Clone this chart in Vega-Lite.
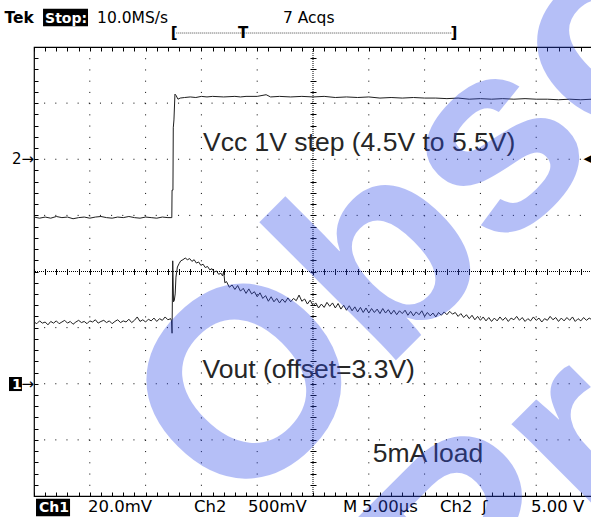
{
"$schema": "https://vega.github.io/schema/vega-lite/v6.json",
"width": 558, "height": 449,
"autosize": "none",
"padding": {"left": 34, "top": 47, "right": 0, "bottom": 21},
"background": "white",
"config": {"view": {"stroke": "#000", "strokeWidth": 1.2}, "axis": {"labels": false, "domain": false, "grid": false, "tickColor": "#000", "tickWidth": 1}},
"datasets": {
"gridX": [{"t":5},{"t":10},{"t":15},{"t":20},{"t":30},{"t":35},{"t":40},{"t":45}],
"gridY": [{"v":1},{"v":2},{"v":3},{"v":5},{"v":6},{"v":7}],
"one": [{"n":1}],
"traces": [
{"ch":"Ch2","t":0,"v":4.97},{"ch":"Ch2","t":0.5,"v":4.95},{"ch":"Ch2","t":1,"v":4.97},{"ch":"Ch2","t":1.5,"v":4.95},{"ch":"Ch2","t":2,"v":4.98},{"ch":"Ch2","t":2.5,"v":4.96},{"ch":"Ch2","t":3,"v":4.97},{"ch":"Ch2","t":3.5,"v":4.94},{"ch":"Ch2","t":4,"v":4.96},{"ch":"Ch2","t":4.5,"v":4.97},{"ch":"Ch2","t":5,"v":4.95},{"ch":"Ch2","t":5.5,"v":4.97},{"ch":"Ch2","t":6,"v":4.98},{"ch":"Ch2","t":6.5,"v":4.96},{"ch":"Ch2","t":7,"v":4.95},{"ch":"Ch2","t":7.5,"v":4.97},{"ch":"Ch2","t":8,"v":4.96},{"ch":"Ch2","t":8.5,"v":4.98},{"ch":"Ch2","t":9,"v":4.96},{"ch":"Ch2","t":9.5,"v":4.95},{"ch":"Ch2","t":10,"v":4.97},{"ch":"Ch2","t":10.5,"v":4.96},{"ch":"Ch2","t":11,"v":4.95},{"ch":"Ch2","t":11.5,"v":4.97},{"ch":"Ch2","t":12,"v":4.96},{"ch":"Ch2","t":12.35,"v":4.96},{"ch":"Ch2","t":12.37,"v":5.45},{"ch":"Ch2","t":12.45,"v":5.45},{"ch":"Ch2","t":12.48,"v":6.56},{"ch":"Ch2","t":12.54,"v":6.7},{"ch":"Ch2","t":12.63,"v":7.16},{"ch":"Ch2","t":12.72,"v":7.14},{"ch":"Ch2","t":12.9,"v":7.07},{"ch":"Ch2","t":13.1,"v":7.09},{"ch":"Ch2","t":13.5,"v":7.1},{"ch":"Ch2","t":14,"v":7.11},{"ch":"Ch2","t":14.5,"v":7.1},{"ch":"Ch2","t":15,"v":7.12},{"ch":"Ch2","t":15.5,"v":7.11},{"ch":"Ch2","t":16,"v":7.12},{"ch":"Ch2","t":17,"v":7.11},{"ch":"Ch2","t":18,"v":7.12},{"ch":"Ch2","t":18.5,"v":7.11},{"ch":"Ch2","t":19,"v":7.12},{"ch":"Ch2","t":20,"v":7.12},{"ch":"Ch2","t":20.8,"v":7.15},{"ch":"Ch2","t":21.2,"v":7.11},{"ch":"Ch2","t":22,"v":7.12},{"ch":"Ch2","t":23,"v":7.11},{"ch":"Ch2","t":24,"v":7.12},{"ch":"Ch2","t":25,"v":7.11},{"ch":"Ch2","t":26,"v":7.12},{"ch":"Ch2","t":27,"v":7.1},{"ch":"Ch2","t":28,"v":7.11},{"ch":"Ch2","t":29,"v":7.1},{"ch":"Ch2","t":30,"v":7.11},{"ch":"Ch2","t":31,"v":7.09},{"ch":"Ch2","t":32,"v":7.1},{"ch":"Ch2","t":33,"v":7.09},{"ch":"Ch2","t":34,"v":7.1},{"ch":"Ch2","t":35,"v":7.09},{"ch":"Ch2","t":36,"v":7.09},{"ch":"Ch2","t":37,"v":7.08},{"ch":"Ch2","t":38,"v":7.09},{"ch":"Ch2","t":39,"v":7.07},{"ch":"Ch2","t":40,"v":7.08},{"ch":"Ch2","t":41,"v":7.07},{"ch":"Ch2","t":42,"v":7.08},{"ch":"Ch2","t":43,"v":7.07},{"ch":"Ch2","t":44,"v":7.08},{"ch":"Ch2","t":45,"v":7.07},{"ch":"Ch2","t":46,"v":7.07},{"ch":"Ch2","t":47,"v":7.06},{"ch":"Ch2","t":48,"v":7.07},{"ch":"Ch2","t":49,"v":7.06},{"ch":"Ch2","t":50,"v":7.07},
{"ch":"Ch1","t":0,"v":3.1},{"ch":"Ch1","t":0.25,"v":3.07},{"ch":"Ch1","t":0.5,"v":3.12},{"ch":"Ch1","t":0.75,"v":3.08},{"ch":"Ch1","t":1,"v":3.1},{"ch":"Ch1","t":1.25,"v":3.05},{"ch":"Ch1","t":1.5,"v":3.11},{"ch":"Ch1","t":1.75,"v":3.08},{"ch":"Ch1","t":2,"v":3.12},{"ch":"Ch1","t":2.25,"v":3.07},{"ch":"Ch1","t":2.5,"v":3.1},{"ch":"Ch1","t":2.75,"v":3.13},{"ch":"Ch1","t":3,"v":3.08},{"ch":"Ch1","t":3.25,"v":3.11},{"ch":"Ch1","t":3.5,"v":3.06},{"ch":"Ch1","t":3.75,"v":3.1},{"ch":"Ch1","t":4,"v":3.13},{"ch":"Ch1","t":4.25,"v":3.09},{"ch":"Ch1","t":4.5,"v":3.11},{"ch":"Ch1","t":4.75,"v":3.07},{"ch":"Ch1","t":5,"v":3.12},{"ch":"Ch1","t":5.25,"v":3.1},{"ch":"Ch1","t":5.5,"v":3.14},{"ch":"Ch1","t":5.75,"v":3.08},{"ch":"Ch1","t":6,"v":3.11},{"ch":"Ch1","t":6.25,"v":3.13},{"ch":"Ch1","t":6.5,"v":3.09},{"ch":"Ch1","t":6.75,"v":3.12},{"ch":"Ch1","t":7,"v":3.07},{"ch":"Ch1","t":7.25,"v":3.11},{"ch":"Ch1","t":7.5,"v":3.14},{"ch":"Ch1","t":7.75,"v":3.09},{"ch":"Ch1","t":8,"v":3.12},{"ch":"Ch1","t":8.25,"v":3.1},{"ch":"Ch1","t":8.5,"v":3.15},{"ch":"Ch1","t":8.75,"v":3.09},{"ch":"Ch1","t":9,"v":3.13},{"ch":"Ch1","t":9.25,"v":3.19},{"ch":"Ch1","t":9.5,"v":3.11},{"ch":"Ch1","t":9.75,"v":3.14},{"ch":"Ch1","t":10,"v":3.1},{"ch":"Ch1","t":10.25,"v":3.15},{"ch":"Ch1","t":10.5,"v":3.12},{"ch":"Ch1","t":10.75,"v":3.17},{"ch":"Ch1","t":11,"v":3.11},{"ch":"Ch1","t":11.25,"v":3.16},{"ch":"Ch1","t":11.5,"v":3.13},{"ch":"Ch1","t":11.75,"v":3.19},{"ch":"Ch1","t":12,"v":3.14},{"ch":"Ch1","t":12.25,"v":3.16},{"ch":"Ch1","t":12.32,"v":3.12},{"ch":"Ch1","t":12.37,"v":2.9},{"ch":"Ch1","t":12.43,"v":4.19},{"ch":"Ch1","t":12.5,"v":3.46},{"ch":"Ch1","t":12.57,"v":3.48},{"ch":"Ch1","t":12.65,"v":3.6},{"ch":"Ch1","t":12.72,"v":3.9},{"ch":"Ch1","t":12.85,"v":4.08},{"ch":"Ch1","t":13,"v":4.14},{"ch":"Ch1","t":13.15,"v":4.19},{"ch":"Ch1","t":13.35,"v":4.21},{"ch":"Ch1","t":13.55,"v":4.24},{"ch":"Ch1","t":13.75,"v":4.21},{"ch":"Ch1","t":13.95,"v":4.23},{"ch":"Ch1","t":14.15,"v":4.18},{"ch":"Ch1","t":14.35,"v":4.21},{"ch":"Ch1","t":14.55,"v":4.15},{"ch":"Ch1","t":14.75,"v":4.17},{"ch":"Ch1","t":14.95,"v":4.11},{"ch":"Ch1","t":15.15,"v":4.13},{"ch":"Ch1","t":15.35,"v":4.07},{"ch":"Ch1","t":15.55,"v":4.09},{"ch":"Ch1","t":15.75,"v":4.03},{"ch":"Ch1","t":15.95,"v":4.05},{"ch":"Ch1","t":16.15,"v":3.99},{"ch":"Ch1","t":16.35,"v":4.01},{"ch":"Ch1","t":16.55,"v":3.95},{"ch":"Ch1","t":16.75,"v":3.97},{"ch":"Ch1","t":16.9,"v":3.92},{"ch":"Ch1","t":17,"v":4},{"ch":"Ch1","t":17.1,"v":3.8},
{"ch":"Ch1","t":17.25,"v":3.82},{"ch":"Ch1","t":17.5,"v":3.72},{"ch":"Ch1","t":17.75,"v":3.76},{"ch":"Ch1","t":18,"v":3.68},{"ch":"Ch1","t":18.25,"v":3.75},{"ch":"Ch1","t":18.5,"v":3.65},{"ch":"Ch1","t":18.75,"v":3.7},{"ch":"Ch1","t":19,"v":3.61},{"ch":"Ch1","t":19.25,"v":3.69},{"ch":"Ch1","t":19.5,"v":3.6},{"ch":"Ch1","t":19.75,"v":3.64},{"ch":"Ch1","t":20,"v":3.55},{"ch":"Ch1","t":20.25,"v":3.62},{"ch":"Ch1","t":20.5,"v":3.52},{"ch":"Ch1","t":20.75,"v":3.57},{"ch":"Ch1","t":21,"v":3.47},{"ch":"Ch1","t":21.25,"v":3.55},{"ch":"Ch1","t":21.5,"v":3.46},{"ch":"Ch1","t":21.75,"v":3.52},{"ch":"Ch1","t":22,"v":3.44},{"ch":"Ch1","t":22.25,"v":3.51},{"ch":"Ch1","t":22.5,"v":3.45},{"ch":"Ch1","t":22.75,"v":3.53},{"ch":"Ch1","t":23,"v":3.46},{"ch":"Ch1","t":23.25,"v":3.52},{"ch":"Ch1","t":23.5,"v":3.48},{"ch":"Ch1","t":23.75,"v":3.58},{"ch":"Ch1","t":24,"v":3.47},{"ch":"Ch1","t":24.25,"v":3.51},{"ch":"Ch1","t":24.5,"v":3.42},{"ch":"Ch1","t":24.75,"v":3.49},{"ch":"Ch1","t":25,"v":3.39},{"ch":"Ch1","t":25.25,"v":3.44},{"ch":"Ch1","t":25.5,"v":3.35},{"ch":"Ch1","t":25.75,"v":3.42},{"ch":"Ch1","t":26,"v":3.36},{"ch":"Ch1","t":26.25,"v":3.45},{"ch":"Ch1","t":26.5,"v":3.38},{"ch":"Ch1","t":26.75,"v":3.44},{"ch":"Ch1","t":27,"v":3.35},{"ch":"Ch1","t":27.25,"v":3.43},{"ch":"Ch1","t":27.5,"v":3.33},{"ch":"Ch1","t":27.75,"v":3.4},{"ch":"Ch1","t":28,"v":3.31},{"ch":"Ch1","t":28.25,"v":3.39},{"ch":"Ch1","t":28.5,"v":3.3},{"ch":"Ch1","t":28.75,"v":3.37},{"ch":"Ch1","t":29,"v":3.28},{"ch":"Ch1","t":29.25,"v":3.36},{"ch":"Ch1","t":29.5,"v":3.27},{"ch":"Ch1","t":29.75,"v":3.35},{"ch":"Ch1","t":30,"v":3.26},{"ch":"Ch1","t":30.25,"v":3.34},{"ch":"Ch1","t":30.5,"v":3.27},{"ch":"Ch1","t":30.75,"v":3.33},{"ch":"Ch1","t":31,"v":3.25},{"ch":"Ch1","t":31.25,"v":3.34},{"ch":"Ch1","t":31.5,"v":3.26},{"ch":"Ch1","t":31.75,"v":3.32},{"ch":"Ch1","t":32,"v":3.24},{"ch":"Ch1","t":32.25,"v":3.31},{"ch":"Ch1","t":32.5,"v":3.23},{"ch":"Ch1","t":32.75,"v":3.3},{"ch":"Ch1","t":33,"v":3.25},{"ch":"Ch1","t":33.25,"v":3.31},{"ch":"Ch1","t":33.5,"v":3.22},{"ch":"Ch1","t":33.75,"v":3.29},{"ch":"Ch1","t":34,"v":3.21},{"ch":"Ch1","t":34.25,"v":3.28},{"ch":"Ch1","t":34.5,"v":3.23},{"ch":"Ch1","t":34.75,"v":3.3},{"ch":"Ch1","t":35,"v":3.2},{"ch":"Ch1","t":35.25,"v":3.27},{"ch":"Ch1","t":35.5,"v":3.21},{"ch":"Ch1","t":35.75,"v":3.26},{"ch":"Ch1","t":36,"v":3.19},{"ch":"Ch1","t":36.25,"v":3.27},{"ch":"Ch1","t":36.5,"v":3.22},{"ch":"Ch1","t":36.75,"v":3.28},{"ch":"Ch1","t":37,"v":3.23},{"ch":"Ch1","t":37.25,"v":3.29},{"ch":"Ch1","t":37.5,"v":3.24},{"ch":"Ch1","t":37.75,"v":3.27},{"ch":"Ch1","t":38,"v":3.2},{"ch":"Ch1","t":38.25,"v":3.25},{"ch":"Ch1","t":38.5,"v":3.18},{"ch":"Ch1","t":38.75,"v":3.23},{"ch":"Ch1","t":39,"v":3.16},{"ch":"Ch1","t":39.25,"v":3.22},{"ch":"Ch1","t":39.5,"v":3.14},{"ch":"Ch1","t":39.75,"v":3.2},{"ch":"Ch1","t":40,"v":3.13},{"ch":"Ch1","t":40.25,"v":3.19},{"ch":"Ch1","t":40.5,"v":3.12},{"ch":"Ch1","t":40.75,"v":3.18},{"ch":"Ch1","t":41,"v":3.11},{"ch":"Ch1","t":41.25,"v":3.17},{"ch":"Ch1","t":41.5,"v":3.12},{"ch":"Ch1","t":41.75,"v":3.19},{"ch":"Ch1","t":42,"v":3.13},{"ch":"Ch1","t":42.25,"v":3.18},{"ch":"Ch1","t":42.5,"v":3.11},{"ch":"Ch1","t":42.75,"v":3.17},{"ch":"Ch1","t":43,"v":3.14},{"ch":"Ch1","t":43.25,"v":3.2},{"ch":"Ch1","t":43.5,"v":3.13},{"ch":"Ch1","t":43.75,"v":3.18},{"ch":"Ch1","t":44,"v":3.11},{"ch":"Ch1","t":44.25,"v":3.16},{"ch":"Ch1","t":44.5,"v":3.12},{"ch":"Ch1","t":44.75,"v":3.19},{"ch":"Ch1","t":45,"v":3.13},{"ch":"Ch1","t":45.25,"v":3.17},{"ch":"Ch1","t":45.5,"v":3.1},{"ch":"Ch1","t":45.75,"v":3.16},{"ch":"Ch1","t":46,"v":3.13},{"ch":"Ch1","t":46.25,"v":3.2},{"ch":"Ch1","t":46.5,"v":3.14},{"ch":"Ch1","t":46.75,"v":3.18},{"ch":"Ch1","t":47,"v":3.11},{"ch":"Ch1","t":47.25,"v":3.17},{"ch":"Ch1","t":47.5,"v":3.12},{"ch":"Ch1","t":47.75,"v":3.18},{"ch":"Ch1","t":48,"v":3.13},{"ch":"Ch1","t":48.25,"v":3.19},{"ch":"Ch1","t":48.5,"v":3.11},{"ch":"Ch1","t":48.75,"v":3.16},{"ch":"Ch1","t":49,"v":3.12},{"ch":"Ch1","t":49.25,"v":3.18},{"ch":"Ch1","t":49.5,"v":3.13},{"ch":"Ch1","t":49.75,"v":3.17},{"ch":"Ch1","t":50,"v":3.14}
],
"notes": [{"label":"Vcc 1V step (4.5V to 5.5V)","t":15.14,"v":6.147},{"label":"Vout (offset=3.3V)","t":15.1,"v":2.1},{"label":"5mA load","t":30.35,"v":0.611}],
"tek": [{"label":"Tek","t":-2.65,"v":8.433}],
"header": [{"label":"10.0MS/s","t":5.65,"v":8.433},{"label":"7 Acqs","t":22.31,"v":8.433}],
"footer": [{"label":"20.0mV","t":4.84,"v":-0.285},{"label":"Ch2","t":14.34,"v":-0.285},{"label":"500mV","t":19.17,"v":-0.285},{"label":"M","t":27.69,"v":-0.285},{"label":"5.00µs","t":29.39,"v":-0.285},{"label":"Ch2","t":36.38,"v":-0.285},{"label":"ʃ","t":40.14,"v":-0.285},{"label":"5.00 V","t":44.53,"v":-0.285}],
"boxes": [{"t":0.81,"t2":4.84,"v":8.68,"v2":8.37},{"t":0.18,"t2":3.23,"v":-0.05,"v2":-0.36},{"t":-2.24,"t2":-1.08,"v":2.12,"v2":1.87}],
"inverse": [{"label":"Stop:","t":0.99,"v":8.433},{"label":"Ch1","t":0.45,"v":-0.285},{"label":"1","t":-1.97,"v":1.906}],
"markers": [{"label":"2→","t":0,"v":6},{"label":"→","t":0,"v":2}],
"trigger": [{"label":"◀","t":50,"v":6}],
"bracketText": [{"label":"[","t":12.55,"v":8.249},{"label":"T","t":18.73,"v":8.249},{"label":"]","t":37.63,"v":8.249}],
"bracketLine": [{"t":12.75,"t2":37.45,"v":8.249}],
"watermark": [{"w":"Obsolete","t":18.1,"v":-0.43},{"w":"Product","t":39.3,"v":-2.98}]
},
"layer": [
{"data":{"name":"gridX"},"mark":{"type":"rule","color":"#000","strokeWidth":1,"strokeDash":[1,10.225]},
 "encoding":{"x":{"field":"t","type":"quantitative","scale":{"domain":[0,50],"nice":false,"zero":false},"axis":{"orient":"bottom","offset":-4,"tickSize":4,"title":null,"values":[0,1,2,3,4,5,6,7,8,9,10,11,12,13,14,15,16,17,18,19,20,21,22,23,24,25,26,27,28,29,30,31,32,33,34,35,36,37,38,39,40,41,42,43,44,45,46,47,48,49,50]}}}},
{"data":{"name":"gridY"},"mark":{"type":"rule","color":"#000","strokeWidth":1,"strokeDash":[1,10.16]},
 "encoding":{"y":{"field":"v","type":"quantitative","scale":{"domain":[0,8],"nice":false,"zero":false},"axis":{"orient":"left","offset":-282,"tickSize":6,"title":null,"values":[0,0.2,0.4,0.6,0.8,1,1.2,1.4,1.6,1.8,2,2.2,2.4,2.6,2.8,3,3.2,3.4,3.6,3.8,4,4.2,4.4,4.6,4.8,5,5.2,5.4,5.6,5.8,6,6.2,6.4,6.6,6.8,7,7.2,7.4,7.6,7.8,8]}}}},
{"data":{"name":"one"},"mark":{"type":"rule","color":"#000","strokeWidth":1,"strokeDash":[1,1]},
 "encoding":{"x":{"datum":25,"type":"quantitative","scale":{"domain":[0,50],"nice":false,"zero":false},"axis":{"orient":"bottom","offset":-227.5,"tickSize":6,"title":null,"values":[0,1,2,3,4,5,6,7,8,9,10,11,12,13,14,15,16,17,18,19,20,21,22,23,24,25,26,27,28,29,30,31,32,33,34,35,36,37,38,39,40,41,42,43,44,45,46,47,48,49,50]}}}},
{"data":{"name":"one"},"mark":{"type":"rule","color":"#000","strokeWidth":1,"strokeDash":[1,1]},
 "encoding":{"y":{"datum":4,"type":"quantitative","scale":{"domain":[0,8],"nice":false,"zero":false},"axis":{"orient":"left","offset":-4,"tickSize":4,"title":null,"values":[0,0.2,0.4,0.6,0.8,1,1.2,1.4,1.6,1.8,2,2.2,2.4,2.6,2.8,3,3.2,3.4,3.6,3.8,4,4.2,4.4,4.6,4.8,5,5.2,5.4,5.6,5.8,6,6.2,6.4,6.6,6.8,7,7.2,7.4,7.6,7.8,8]}}}},
{"data":{"name":"traces"},"mark":{"type":"line","strokeWidth":1,"color":"#1e1e1e"},
 "encoding":{"x":{"field":"t","type":"quantitative","scale":{"domain":[0,50],"nice":false,"zero":false},"axis":{"orient":"top","offset":-4,"tickSize":4,"title":null,"values":[0,1,2,3,4,5,6,7,8,9,10,11,12,13,14,15,16,17,18,19,20,21,22,23,24,25,26,27,28,29,30,31,32,33,34,35,36,37,38,39,40,41,42,43,44,45,46,47,48,49,50]}},
  "y":{"field":"v","type":"quantitative","scale":{"domain":[0,8],"nice":false,"zero":false},"axis":null},
  "detail":{"field":"ch"}}},
{"data":{"name":"notes"},"mark":{"type":"text","font":"Liberation Sans","fontSize":26.5,"align":"left","baseline":"alphabetic","color":"#262626"},
 "encoding":{"x":{"field":"t","type":"quantitative","scale":{"domain":[0,50],"nice":false,"zero":false},"axis":null},"y":{"field":"v","type":"quantitative","scale":{"domain":[0,8],"nice":false,"zero":false},"axis":null},"text":{"field":"label"}}},
{"data":{"name":"tek"},"mark":{"type":"text","font":"DejaVu Sans","fontWeight":"bold","fontSize":15.5,"align":"left","baseline":"alphabetic","color":"#000"},
 "encoding":{"x":{"field":"t","type":"quantitative","scale":{"domain":[0,50],"nice":false,"zero":false},"axis":null},"y":{"field":"v","type":"quantitative","scale":{"domain":[0,8],"nice":false,"zero":false},"axis":null},"text":{"field":"label"}}},
{"data":{"name":"header"},"mark":{"type":"text","font":"DejaVu Sans","fontSize":15.5,"align":"left","baseline":"alphabetic","color":"#000"},
 "encoding":{"x":{"field":"t","type":"quantitative","scale":{"domain":[0,50],"nice":false,"zero":false},"axis":null},"y":{"field":"v","type":"quantitative","scale":{"domain":[0,8],"nice":false,"zero":false},"axis":null},"text":{"field":"label"}}},
{"data":{"name":"footer"},"mark":{"type":"text","font":"DejaVu Sans","fontSize":16.5,"align":"left","baseline":"alphabetic","color":"#000"},
 "encoding":{"x":{"field":"t","type":"quantitative","scale":{"domain":[0,50],"nice":false,"zero":false},"axis":null},"y":{"field":"v","type":"quantitative","scale":{"domain":[0,8],"nice":false,"zero":false},"axis":null},"text":{"field":"label"}}},
{"data":{"name":"boxes"},"mark":{"type":"rect","color":"#000"},
 "encoding":{"x":{"field":"t","type":"quantitative","scale":{"domain":[0,50],"nice":false,"zero":false},"axis":null},"x2":{"field":"t2"},"y":{"field":"v","type":"quantitative","scale":{"domain":[0,8],"nice":false,"zero":false},"axis":null},"y2":{"field":"v2"}}},
{"data":{"name":"inverse"},"mark":{"type":"text","font":"DejaVu Sans","fontWeight":"bold","fontSize":14,"align":"left","baseline":"alphabetic","color":"#fff"},
 "encoding":{"x":{"field":"t","type":"quantitative","scale":{"domain":[0,50],"nice":false,"zero":false},"axis":null},"y":{"field":"v","type":"quantitative","scale":{"domain":[0,8],"nice":false,"zero":false},"axis":null},"text":{"field":"label"}}},
{"data":{"name":"markers"},"mark":{"type":"text","font":"DejaVu Sans","fontSize":15,"align":"right","baseline":"middle","color":"#000"},
 "encoding":{"x":{"field":"t","type":"quantitative","scale":{"domain":[0,50],"nice":false,"zero":false},"axis":null},"y":{"field":"v","type":"quantitative","scale":{"domain":[0,8],"nice":false,"zero":false},"axis":null},"text":{"field":"label"}}},
{"data":{"name":"trigger"},"mark":{"type":"text","font":"DejaVu Sans","fontSize":11,"align":"right","baseline":"middle","color":"#000"},
 "encoding":{"x":{"field":"t","type":"quantitative","scale":{"domain":[0,50],"nice":false,"zero":false},"axis":null},"y":{"field":"v","type":"quantitative","scale":{"domain":[0,8],"nice":false,"zero":false},"axis":null},"text":{"field":"label"}}},
{"data":{"name":"bracketLine"},"mark":{"type":"rule","color":"#444","strokeWidth":1,"strokeDash":[1,1]},
 "encoding":{"x":{"field":"t","type":"quantitative","scale":{"domain":[0,50],"nice":false,"zero":false},"axis":null},"x2":{"field":"t2"},"y":{"field":"v","type":"quantitative","scale":{"domain":[0,8],"nice":false,"zero":false},"axis":null}}},
{"data":{"name":"bracketText"},"mark":{"type":"text","font":"DejaVu Sans","fontWeight":"bold","fontSize":15,"align":"center","baseline":"middle","color":"#000"},
 "encoding":{"x":{"field":"t","type":"quantitative","scale":{"domain":[0,50],"nice":false,"zero":false},"axis":null},"y":{"field":"v","type":"quantitative","scale":{"domain":[0,8],"nice":false,"zero":false},"axis":null},"text":{"field":"label"}}},
{"data":{"name":"watermark"},"mark":{"type":"text","font":"Liberation Sans","fontWeight":"bold","fontSize":268,"angle":-45,"align":"left","baseline":"alphabetic","color":"#2F4BEB","opacity":0.35},
 "encoding":{"x":{"field":"t","type":"quantitative","scale":{"domain":[0,50],"nice":false,"zero":false},"axis":null},"y":{"field":"v","type":"quantitative","scale":{"domain":[0,8],"nice":false,"zero":false},"axis":null},"text":{"field":"w"}}}
],
"resolve": {"axis": {"x": "independent", "y": "independent"}}
}
